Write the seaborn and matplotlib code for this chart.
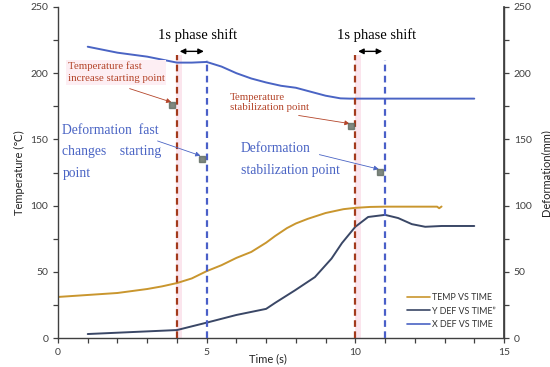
import numpy as np
import pandas as pd
import matplotlib
matplotlib.use("Agg")
import matplotlib.pyplot as plt
import seaborn as sns
from matplotlib.ticker import MultipleLocator

# ---- data ----
temp_t = [0, 1, 2, 3, 3.5, 4, 4.5, 5, 5.5, 6, 6.5, 7, 7.3, 7.7, 8, 8.4, 9, 9.6, 10, 10.5, 11, 12, 12.75, 12.82, 12.9]
temp_v = [31, 32.5, 34, 37, 39, 41.5, 45, 50.5, 55, 60.5, 65, 72, 77, 83, 86.5, 90, 94.4, 97.3, 98.3, 99, 99.2, 99.2, 99.2, 98, 99.3]

ydef_t = [1, 2, 3, 4, 5, 6, 7, 7.3, 7.97, 8.64, 9.2, 9.55, 10, 10.43, 11, 11.44, 11.9, 12.35, 12.9, 14]
ydef_v = [3, 4, 5, 6, 11.6, 17.4, 22, 26.5, 36, 46, 60, 71.7, 84, 91.4, 93, 90.6, 86, 84, 84.6, 84.6]

xdef_t = [1, 2, 3, 4, 4.5, 5, 5.5, 6, 6.5, 7, 7.5, 8, 8.5, 9, 9.5, 9.8, 11, 12, 13, 14]
xdef_v = [220, 215.5, 212.5, 208, 208, 208.5, 205, 200, 196, 193, 190.5, 189, 186, 183, 181, 180.8, 180.8, 180.8, 180.8, 180.8]

series_names = ["TEMP VS TIME", "Y DEF VS TIME\u201d", "X DEF VS TIME"]
shift_starts = [4, 10]
shift_ends = [5, 11]

df = pd.concat([
    pd.DataFrame({"t": temp_t, "v": temp_v, "s": series_names[0]}),
    pd.DataFrame({"t": ydef_t, "v": ydef_v, "s": series_names[1]}),
    pd.DataFrame({"t": xdef_t, "v": xdef_v, "s": series_names[2]}),
])

sns.set_theme(style="ticks")
plt.rcParams['font.family'] = ['Lato', 'DejaVu Sans']

fig = plt.figure(figsize=(5.5, 3.67), dpi=100)
ax = fig.add_axes([58/550, 1 - 338/367, (504-58)/550, (338-7)/367])

palette = {series_names[0]: "#C9962E", series_names[1]: "#3A4766", series_names[2]: "#4A64C4"}
sns.lineplot(data=df, x="t", y="v", hue="s", palette=palette, ax=ax, lw=1.4,
             estimator=None, sort=False)

ax.set_xlim(0, 15)
ax.set_ylim(0, 250)
ax.xaxis.set_major_locator(MultipleLocator(5))
ax.xaxis.set_minor_locator(MultipleLocator(1))
ax.yaxis.set_major_locator(MultipleLocator(50))
ax.yaxis.set_minor_locator(MultipleLocator(25))
ax.spines["top"].set_visible(False)
for sp in ["left", "bottom", "right"]:
    ax.spines[sp].set_color("#404040")
    ax.spines[sp].set_linewidth(1.0)
ax.tick_params(axis="both", which="both", direction="out", length=3.5, width=0.9,
               color="#404040", labelsize=7.5, labelcolor="#404040", left=True, bottom=True)
ax.set_xlabel("Time (s)", fontsize=8, color="#222222", labelpad=1)
ax.xaxis.set_label_coords(0.47, -0.045)
ax.set_ylabel("Temperature (\u2103)", fontsize=8, color="#222222", labelpad=4)

ax2 = ax.twinx()
ax2.set_ylim(0, 250)
ax2.yaxis.set_major_locator(MultipleLocator(50))
ax2.yaxis.set_minor_locator(MultipleLocator(25))
for sp in ["top", "left", "bottom"]:
    ax2.spines[sp].set_visible(False)
ax2.spines["right"].set_color("#404040")
ax2.tick_params(axis="y", which="both", direction="out", length=3.5, width=0.9,
                color="#404040", labelsize=7.5, labelcolor="#404040", right=True)
ax2.set_ylabel("Deformation(mm)", fontsize=8, color="#222222", labelpad=6)

# pink bands and dashed lines
for xs, xe in zip(shift_starts, shift_ends):
    ax.axvspan(xs - 0.02, xs + 0.18, ymin=0, ymax=214/250, color="#F9D5E2", alpha=0.6, lw=0, zorder=0)
    ax.plot([xs, xs], [0, 214], ls=(0, (3, 2)), color="#A33A1C", lw=1.6, zorder=3)
    ax.plot([xe, xe], [0, 210], ls=(0, (3, 2)), color="#4A5FC8", lw=1.6, zorder=3)
    ax.annotate("", xy=(xs, 216.5), xytext=(xe, 216.5),
                arrowprops=dict(arrowstyle="<|-|>", color="black", lw=1.0, mutation_scale=8), zorder=4)
    ax.text((xs + xe) / 2 + 0.2, 229, "1s phase shift", ha="center", va="center",
            fontsize=10.5, family="Liberation Serif", color="black")

red = "#B4452A"
blue = "#4A64C4"
ax.text(0.33, 209, "Temperature fast\nincrease starting point", fontsize=7.8, family="Liberation Serif",
        color=red, ha="left", va="top", linespacing=1.5,
        bbox=dict(boxstyle="square,pad=0.15", fc="#FDEEF3", ec="none"))
ax.text(5.78, 185, "Temperature\nstabilization point", fontsize=7.8, family="Liberation Serif",
        color=red, ha="left", va="top", linespacing=1.2)
ax.text(0.15, 162, "Deformation  fast\nchanges    starting\npoint", fontsize=9.8, family="Liberation Serif",
        color=blue, ha="left", va="top", linespacing=1.85)
ax.text(6.15, 148, "Deformation\nstabilization point", fontsize=9.8, family="Liberation Serif",
        color=blue, ha="left", va="top", linespacing=1.85)

# annotation arrows with markers
pts = [((2.32, 189), (3.9, 177.5), red), ((3.26, 149.5), (4.88, 137), blue),
       ((8.0, 168.4), (9.9, 161.6), red), ((8.7, 139), (10.88, 127), blue)]
for (x0, y0), (x1, y1), c in pts:
    ax.annotate("", xy=(x1, y1), xytext=(x0, y0),
                arrowprops=dict(arrowstyle="-|>", color=c, lw=0.6, mutation_scale=7), zorder=5)
    ax.plot([x1 - 0.05], [y1 - 1.5], marker="s", ms=4, color="#5F6B60", alpha=0.8, zorder=6, ls="none")

leg = ax.legend(loc="lower right", bbox_to_anchor=(1.0, 0.003), frameon=False, fontsize=6.4,
                handlelength=2.6, handletextpad=0.2, labelspacing=0.5)
for txt in leg.get_texts():
    txt.set_color("#333333")
for h in leg.get_lines():
    h.set_linewidth(1.2)

fig.savefig("out.png", dpi=100)
